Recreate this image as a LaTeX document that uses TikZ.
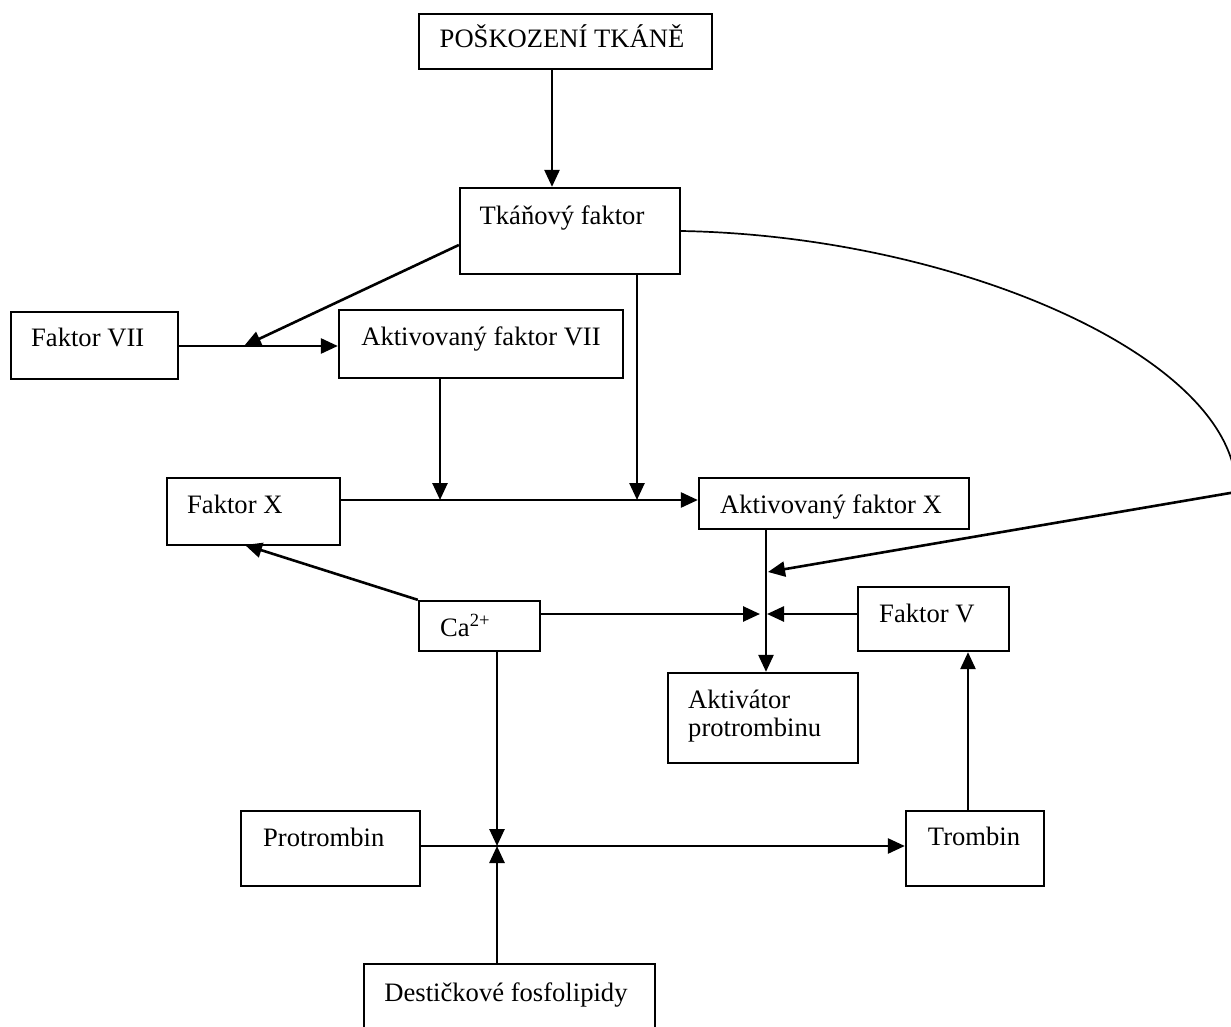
\documentclass[tikz,border=0pt]{standalone}
\usepackage{fontspec}
\setmainfont{Liberation Serif}
\usetikzlibrary{arrows.meta}
\tikzset{
  bx/.style={draw, line width=2.3pt, rectangle, inner sep=0pt},
  txt/.style={inner sep=0pt, font=\fontsize{26.6}{28}\selectfont},
  arr/.style={line width=2.6pt, -{Triangle[length=17pt,width=15pt]}},
  thinc/.style={line width=1.7pt}
}
\begin{document}
\begin{tikzpicture}[x=1pt,y=-1pt]
\useasboundingbox (0,0) rectangle (1231,1027);
\clip (0,0) rectangle (1231,1027);
\fill[white] (0,0) rectangle (1231,1027);

% boxes
\node[bx, minimum width=293pt, minimum height=55pt] (pt) at (565.5,41.5) {};
\node[bx, minimum width=220pt, minimum height=86pt] (tf) at (570,231) {};
\node[bx, minimum width=167pt, minimum height=67pt] (f7) at (94.5,345.5) {};
\node[bx, minimum width=284pt, minimum height=68pt] (a7) at (481,344) {};
\node[bx, minimum width=173pt, minimum height=67pt] (fx) at (253.5,511.5) {};
\node[bx, minimum width=270pt, minimum height=51pt] (ax) at (834,503.5) {};
\node[bx, minimum width=121pt, minimum height=50pt] (ca) at (479.5,626) {};
\node[bx, minimum width=151pt, minimum height=64pt] (fv) at (933.5,619) {};
\node[bx, minimum width=190pt, minimum height=90pt] (ap) at (763,718) {};
\node[bx, minimum width=179pt, minimum height=75pt] (pr) at (330.5,848.5) {};
\node[bx, minimum width=138pt, minimum height=75pt] (tr) at (975,848.5) {};
\node[bx, minimum width=291pt, minimum height=80pt] (dp) at (509.5,1004) {};

% texts
\node[txt, anchor=base] (tpt) at (562,48) {POŠKOZENÍ TKÁNĚ};
\node[txt, anchor=base] (ttf) at (562,224) {Tkáňový faktor};
\node[txt, anchor=base west] (tf7) at (31,346) {Faktor VII};
\node[txt, anchor=base] (ta7) at (481,345) {Aktivovaný faktor VII};
\node[txt, anchor=base west] (tfx) at (187,513) {Faktor X};
\node[txt, anchor=base] (tax) at (831,513) {Aktivovaný faktor X};
\node[txt, anchor=base west] (tca) at (440,636) {Ca\textsuperscript{2+}};
\node[txt, anchor=base west] (tfv) at (879,622) {Faktor V};
\node[txt, anchor=base west] (tap1) at (688,708) {Aktivátor};
\node[txt, anchor=base west] (tap2) at (688,736) {protrombinu};
\node[txt, anchor=base west] (tpr) at (263,846) {Protrombin};
\node[txt, anchor=base] (ttr) at (974,845) {Trombin};
\node[txt, anchor=base] (tdp) at (506,1001) {Destičkové fosfolipidy};

% junction coordinates
\coordinate (c1) at (552,0);
\coordinate (j7) at (244,346);
\coordinate (tfl) at (460,245);
\coordinate (jx1) at (440,500);
\coordinate (jx2) at (637,500);
\coordinate (ja) at (766,0);
\coordinate (jc) at (768,572);
\coordinate (jr) at (1236,492);
\coordinate (jcl) at (760,614);
\coordinate (jcr) at (767,614);
\coordinate (fxb) at (245,545);
\coordinate (jp) at (497,846);
\coordinate (jt) at (968,0);

% connectors
\draw[arr] (pt.south -| c1) -- (tf.north -| c1);
\draw[arr] (tf.west |- tfl) -- (j7);
\draw[arr] (f7.east |- j7) -- (a7.west |- j7);
\draw[arr] (a7.south -| jx1) -- (jx1);
\draw[arr] (tf.south -| jx2) -- (jx2);
\draw[arr] (fx.east |- jx1) -- (ax.west |- jx1);
\draw[arr] (ax.south -| ja) -- (ap.north -| ja);
\draw[thinc] (tf.east) .. controls (960,236) and (1240,360) .. (jr);
\draw[arr] (jr) -- (jc);
\draw[arr] (ca.east |- jcl) -- (jcl);
\draw[arr] (fv.west |- jcr) -- (jcr);
\draw[arr] (ca.north west) -- (fxb);
\draw[arr] (ca.south -| jp) -- (jp);
\draw[arr] (dp.north -| jp) -- (jp);
\draw[arr] (pr.east |- jp) -- (tr.west |- jp);
\draw[arr] (tr.north -| jt) -- (fv.south -| jt);
\end{tikzpicture}
\end{document}
